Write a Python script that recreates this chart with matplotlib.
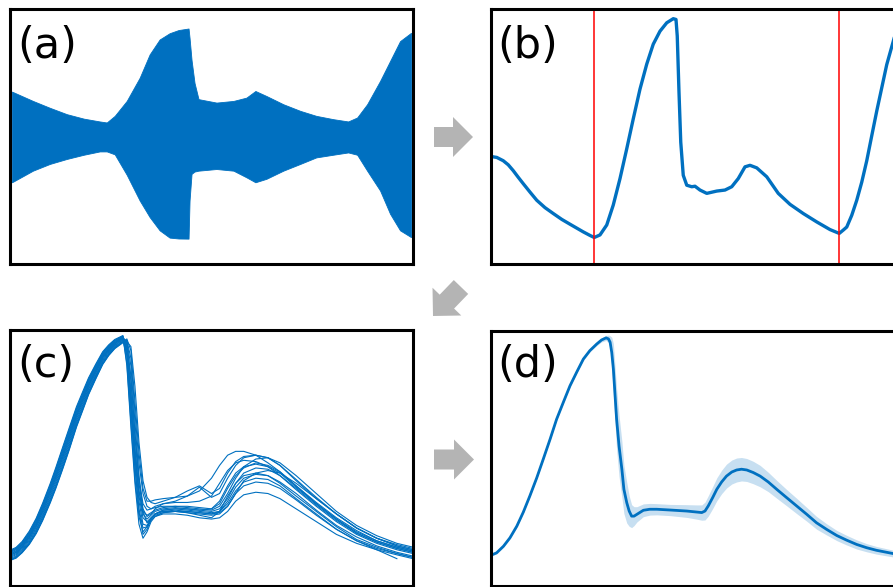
import matplotlib
matplotlib.use("Agg")
import matplotlib.pyplot as plt
from matplotlib.patches import FancyArrow
import numpy as np

BLUE = '#0070c0'
GREY = '#b4b4b4'

# (a) raw recording, drawn as its envelope (time in s, normalised amplitude)
env_t = [0.00, 0.21, 0.38, 0.55, 0.72, 0.88, 0.95, 1.03, 1.15, 1.28, 1.38, 1.48, 1.58, 1.67,
         1.77, 1.78, 1.80, 1.83, 1.87, 2.05, 2.22, 2.35, 2.44, 2.55, 2.72, 2.89, 3.05, 3.22,
         3.37, 3.46, 3.56, 3.69, 3.79, 3.89, 4.00]
env_upper = [0.352, 0.279, 0.225, 0.175, 0.140, 0.118, 0.110, 0.162, 0.279, 0.461, 0.644, 0.761,
             0.810, 0.835, 0.847, 0.774, 0.600, 0.420, 0.293, 0.266, 0.279, 0.305, 0.357, 0.318,
             0.253, 0.201, 0.162, 0.136, 0.118, 0.149, 0.253, 0.436, 0.592, 0.748, 0.813]
env_lower = [-0.359, -0.268, -0.215, -0.176, -0.143, -0.117, -0.117, -0.140, -0.300, -0.502,
             -0.632, -0.736, -0.793, -0.800, -0.801, -0.502, -0.293, -0.275, -0.268, -0.255,
             -0.268, -0.320, -0.359, -0.332, -0.268, -0.215, -0.164, -0.143, -0.125, -0.143,
             -0.268, -0.424, -0.606, -0.736, -0.789]

# (b) demodulated pulse with detected beat onsets
pulse_t = [0.000, 0.025, 0.051, 0.071, 0.091, 0.111, 0.131, 0.158, 0.185, 0.218, 0.251, 0.285,
           0.318, 0.371, 0.398, 0.415, 0.438, 0.465, 0.491, 0.518, 0.545, 0.571, 0.598, 0.625,
           0.651, 0.678, 0.705, 0.731, 0.742, 0.747, 0.754, 0.761, 0.771, 0.785, 0.805, 0.818,
           0.838, 0.865, 0.905, 0.938, 0.965, 0.991, 1.018, 1.038, 1.065, 1.105, 1.151, 1.198,
           1.251, 1.305, 1.358, 1.385, 1.395, 1.411, 1.425, 1.445, 1.465, 1.485, 1.505, 1.525,
           1.545, 1.565, 1.585, 1.611, 1.630]
pulse_y = [0.422, 0.418, 0.405, 0.389, 0.366, 0.340, 0.315, 0.282, 0.250, 0.221, 0.198, 0.175,
           0.156, 0.126, 0.112, 0.104, 0.114, 0.153, 0.231, 0.335, 0.452, 0.569, 0.686, 0.784,
           0.862, 0.913, 0.946, 0.962, 0.959, 0.894, 0.673, 0.478, 0.348, 0.309, 0.303, 0.305,
           0.290, 0.277, 0.286, 0.290, 0.303, 0.335, 0.381, 0.387, 0.377, 0.342, 0.277, 0.234,
           0.198, 0.165, 0.135, 0.124, 0.120, 0.133, 0.145, 0.191, 0.250, 0.321, 0.405, 0.503,
           0.600, 0.691, 0.782, 0.873, 0.940]
onset_t = [0.415, 1.395]

# (c) segmented beats on a normalised time axis
beat_t = [0.00, 0.015, 0.03, 0.048, 0.065, 0.081, 0.10, 0.114, 0.13, 0.147, 0.165, 0.18, 0.195,
          0.213, 0.23, 0.245, 0.26, 0.28, 0.29, 0.30, 0.31, 0.32, 0.33, 0.34, 0.35, 0.36, 0.38,
          0.41, 0.44, 0.47, 0.50, 0.52, 0.54, 0.56, 0.58, 0.61, 0.64, 0.67, 0.71, 0.76, 0.81,
          0.86, 0.91, 0.96, 1.00]
beats = [
    [0.138, 0.149, 0.172, 0.213, 0.263, 0.322, 0.400, 0.463, 0.538, 0.617, 0.700, 0.757, 0.813,
     0.867, 0.915, 0.942, 0.963, 0.978, 0.86, 0.62, 0.40, 0.24, 0.185, 0.21, 0.25, 0.27, 0.285,
     0.29, 0.285, 0.275, 0.265, 0.29, 0.35, 0.40, 0.43, 0.44, 0.43, 0.40, 0.35, 0.29, 0.23,
     0.18, 0.15, 0.125, 0.11],
    [0.102, 0.111, 0.132, 0.166, 0.209, 0.261, 0.332, 0.389, 0.461, 0.540, 0.628, 0.690, 0.754,
     0.815, 0.870, 0.904, 0.931, 0.955, 0.965, 0.92, 0.72, 0.52, 0.38, 0.33, 0.33, 0.335, 0.34,
     0.345, 0.35, 0.37, 0.42, 0.47, 0.51, 0.525, 0.525, 0.51, 0.48, 0.445, 0.39, 0.32, 0.26,
     0.21, 0.175, 0.15, 0.135],
    [0.126, 0.136, 0.159, 0.197, 0.245, 0.302, 0.377, 0.438, 0.512, 0.591, 0.676, 0.735, 0.793,
     0.850, 0.900, 0.929, 0.952, 0.972, 0.95, 0.80, 0.58, 0.40, 0.30, 0.27, 0.28, 0.30, 0.32,
     0.33, 0.35, 0.385, 0.345, 0.36, 0.42, 0.47, 0.50, 0.51, 0.50, 0.47, 0.41, 0.34, 0.28,
     0.225, 0.185, 0.16, 0.145],
    [0.110, 0.120, 0.141, 0.177, 0.221, 0.274, 0.347, 0.406, 0.478, 0.557, 0.644, 0.705, 0.767,
     0.826, 0.880, 0.913, 0.938, 0.962, 0.90, 0.68, 0.46, 0.30, 0.225, 0.23, 0.255, 0.27, 0.28,
     0.28, 0.275, 0.265, 0.26, 0.265, 0.29, 0.33, 0.355, 0.365, 0.36, 0.34, 0.30, 0.25, 0.20,
     0.165, 0.14, 0.12, 0.105],
    [0.132, 0.143, 0.165, 0.205, 0.254, 0.312, 0.389, 0.451, 0.525, 0.604, 0.688, 0.746, 0.803,
     0.858, 0.908, 0.936, 0.958, 0.975, 0.94, 0.76, 0.54, 0.37, 0.28, 0.26, 0.275, 0.29, 0.30,
     0.305, 0.30, 0.295, 0.30, 0.33, 0.39, 0.44, 0.465, 0.475, 0.465, 0.44, 0.385, 0.32, 0.26,
     0.205, 0.17, 0.145, 0.13],
    [0.098, 0.107, 0.128, 0.161, 0.203, 0.254, 0.324, 0.381, 0.452, 0.531, 0.620, 0.683, 0.747,
     0.809, 0.865, 0.900, 0.927, 0.950, 0.96, 0.89, 0.68, 0.48, 0.36, 0.31, 0.30, 0.305, 0.31,
     0.31, 0.305, 0.30, 0.295, 0.31, 0.36, 0.42, 0.465, 0.495, 0.50, 0.48, 0.43, 0.36, 0.29,
     0.235, 0.195, 0.165, 0.15],
    [0.118, 0.128, 0.150, 0.187, 0.233, 0.288, 0.362, 0.422, 0.495, 0.574, 0.660, 0.720, 0.780,
     0.838, 0.890, 0.921, 0.945, 0.968, 0.91, 0.70, 0.47, 0.29, 0.20, 0.22, 0.26, 0.28, 0.29,
     0.29, 0.285, 0.28, 0.275, 0.28, 0.31, 0.36, 0.39, 0.405, 0.40, 0.38, 0.335, 0.275, 0.22,
     0.175, 0.145, 0.125, 0.11],
    [0.123, 0.133, 0.156, 0.194, 0.241, 0.297, 0.372, 0.432, 0.506, 0.585, 0.670, 0.729, 0.788,
     0.845, 0.896, 0.926, 0.950, 0.970, 0.93, 0.74, 0.52, 0.35, 0.265, 0.25, 0.265, 0.28, 0.29,
     0.295, 0.29, 0.285, 0.28, 0.285, 0.31, 0.36, 0.41, 0.44, 0.45, 0.44, 0.40, 0.34, 0.28,
     0.225, 0.185, 0.155, 0.14],
    [0.106, 0.115, 0.137, 0.171, 0.215, 0.268, 0.339, 0.397, 0.469, 0.548, 0.636, 0.698, 0.760,
     0.821, 0.875, 0.908, 0.934, 0.958, 0.945, 0.82, 0.60, 0.42, 0.32, 0.295, 0.30, 0.31, 0.32,
     0.325, 0.325, 0.33, 0.35, 0.40, 0.45, 0.48, 0.49, 0.485, 0.465, 0.43, 0.375, 0.31, 0.25,
     0.20, 0.165, 0.14, 0.125],
    [0.135, 0.146, 0.169, 0.209, 0.259, 0.317, 0.394, 0.457, 0.532, 0.611, 0.694, 0.751, 0.808,
     0.863, 0.911, 0.939, 0.960, 0.977, 0.87, 0.64, 0.42, 0.27, 0.21, 0.23, 0.265, 0.28, 0.295,
     0.30, 0.295, 0.29, 0.285, 0.29, 0.32, 0.37, 0.405, 0.42, 0.415, 0.39, 0.34, 0.28, 0.22,
     0.175, 0.14, 0.105, np.nan],
    [0.114, 0.124, 0.146, 0.182, 0.227, 0.281, 0.354, 0.414, 0.486, 0.565, 0.652, 0.713, 0.773,
     0.832, 0.885, 0.917, 0.941, 0.965, 0.955, 0.86, 0.64, 0.43, 0.29, 0.245, 0.26, 0.28, 0.295,
     0.30, 0.30, 0.295, 0.29, 0.30, 0.34, 0.40, 0.44, 0.46, 0.455, 0.43, 0.38, 0.315, 0.255,
     0.205, 0.17, 0.145, 0.13],
    [0.120, 0.130, 0.152, 0.190, 0.236, 0.291, 0.366, 0.426, 0.499, 0.578, 0.664, 0.724, 0.783,
     0.841, 0.893, 0.923, 0.947, 0.969, 0.92, 0.72, 0.50, 0.33, 0.24, 0.235, 0.26, 0.275, 0.285,
     0.29, 0.29, 0.285, 0.28, 0.29, 0.33, 0.385, 0.42, 0.435, 0.43, 0.405, 0.36, 0.295, 0.235,
     0.19, 0.155, 0.13, 0.115],
    [0.100, 0.109, 0.130, 0.164, 0.206, 0.257, 0.328, 0.385, 0.456, 0.535, 0.624, 0.687, 0.750,
     0.812, 0.867, 0.902, 0.929, 0.952, 0.955, 0.935, 0.78, 0.56, 0.41, 0.345, 0.325, 0.32, 0.33,
     0.345, 0.37, 0.39, 0.36, 0.38, 0.44, 0.485, 0.505, 0.51, 0.50, 0.47, 0.415, 0.345, 0.28,
     0.225, 0.185, 0.155, 0.14],
    [0.129, 0.140, 0.162, 0.201, 0.250, 0.307, 0.383, 0.445, 0.519, 0.598, 0.682, 0.740, 0.798,
     0.854, 0.904, 0.933, 0.955, 0.973, 0.92, 0.73, 0.52, 0.37, 0.29, 0.275, 0.285, 0.295, 0.305,
     0.31, 0.31, 0.305, 0.30, 0.32, 0.38, 0.43, 0.46, 0.48, 0.47, 0.445, 0.39, 0.325, 0.265,
     0.215, 0.175, 0.15, 0.135],
]

# (d) ensemble average beat and its spread
mean_t = [0.000, 0.015, 0.032, 0.048, 0.065, 0.081, 0.097, 0.114, 0.130, 0.147, 0.163, 0.180,
          0.196, 0.213, 0.229, 0.245, 0.262, 0.274, 0.285, 0.291, 0.295, 0.299, 0.303, 0.311,
          0.317, 0.324, 0.329, 0.336, 0.342, 0.348, 0.354, 0.361, 0.377, 0.393, 0.410, 0.443,
          0.484, 0.509, 0.521, 0.529, 0.537, 0.548, 0.558, 0.570, 0.582, 0.595, 0.607, 0.619,
          0.632, 0.648, 0.665, 0.685, 0.706, 0.730, 0.755, 0.780, 0.804, 0.829, 0.854, 0.878,
          0.903, 0.928, 0.952, 1.000]
mean_beat = [0.118, 0.128, 0.154, 0.187, 0.233, 0.288, 0.351, 0.422, 0.495, 0.574, 0.652, 0.720,
             0.783, 0.838, 0.888, 0.921, 0.947, 0.963, 0.971, 0.967, 0.954, 0.914, 0.849, 0.652,
             0.547, 0.456, 0.377, 0.325, 0.292, 0.272, 0.272, 0.279, 0.295, 0.299, 0.299, 0.296,
             0.292, 0.288, 0.286, 0.292, 0.312, 0.345, 0.377, 0.406, 0.429, 0.445, 0.453, 0.456,
             0.453, 0.443, 0.429, 0.406, 0.377, 0.345, 0.312, 0.279, 0.246, 0.220, 0.196, 0.178,
             0.161, 0.148, 0.138, 0.123]
beat_spread = [0.004, 0.004, 0.004, 0.004, 0.004, 0.004, 0.004, 0.004, 0.004, 0.004, 0.004, 0.004,
               0.004, 0.004, 0.005, 0.005, 0.006, 0.008, 0.010, 0.015, 0.025, 0.060, 0.100, 0.120,
               0.120, 0.110, 0.095, 0.080, 0.060, 0.045, 0.037, 0.030, 0.025, 0.023, 0.022, 0.022,
               0.025, 0.028, 0.030, 0.035, 0.040, 0.043, 0.045, 0.046, 0.047, 0.047, 0.047, 0.046,
               0.045, 0.044, 0.042, 0.038, 0.035, 0.032, 0.030, 0.027, 0.025, 0.022, 0.020, 0.019,
               0.018, 0.016, 0.015, 0.013]

W, H = 893, 587
fig = plt.figure(figsize=(W / 100, H / 100), dpi=100)


def add_panel(left, top, right, bottom):
    '''
    Box without ticks, placed in pixel units from the top-left corner.
    '''
    ax = fig.add_axes([left / W, 1 - bottom / H, (right - left) / W, (bottom - top) / H])
    ax.set_xticks([])
    ax.set_yticks([])
    for sp in ax.spines.values():
        sp.set_linewidth(2.2)
        sp.set_color('black')
    return ax


ax_a = add_panel(10, 9, 413, 264)
ax_a.fill_between(env_t, env_lower, env_upper, color=BLUE, lw=0.6)
ax_a.set_xlim(-0.02, 4.02)
ax_a.set_ylim(-1, 1)

ax_b = add_panel(490.5, 9, 897, 264)
ax_b.plot(pulse_t, pulse_y, color=BLUE, lw=2.4, solid_joinstyle='round')
for t0 in onset_t:
    ax_b.axvline(t0, color='red', lw=1.1)
ax_b.set_xlim(0, 1.626)
ax_b.set_ylim(0, 1)

ax_c = add_panel(10, 330, 413, 585.5)
for beat in beats:
    ax_c.plot(beat_t, beat, color=BLUE, lw=0.8)
ax_c.set_xlim(0, 1.0)
ax_c.set_ylim(0, 1)

ax_d = add_panel(490.5, 330.5, 897, 585.5)
mean_beat = np.array(mean_beat)
beat_spread = np.array(beat_spread)
ax_d.fill_between(mean_t, mean_beat - beat_spread, mean_beat + beat_spread, color=BLUE, alpha=0.22, lw=0)
ax_d.plot(mean_t, mean_beat, color=BLUE, lw=2.0, solid_joinstyle='round')
ax_d.set_xlim(0, 1.0025)
ax_d.set_ylim(0, 1)

# arrows and panel letters on a full-figure layer in pixel units
ov = fig.add_axes([0, 0, 1, 1], zorder=10)
ov.set_xlim(0, W)
ov.set_ylim(H, 0)
ov.axis('off')
ov.patch.set_alpha(0)

for x, y, dx, dy in [(434, 137, 39, 0), (461, 287, -28, 29), (434, 459.5, 40, 0)]:
    ov.add_patch(FancyArrow(x, y, dx, dy, width=20, head_width=40, head_length=20,
                            length_includes_head=True, color=GREY, lw=0))

for x, y, label in [(17, 58, '(a)'), (497, 58, '(b)'), (17, 377.5, '(c)'), (497, 377.5, '(d)')]:
    ov.text(x, y, label, fontsize=31, ha='left', va='baseline', color='black')

fig.savefig('out.png', dpi=100)
